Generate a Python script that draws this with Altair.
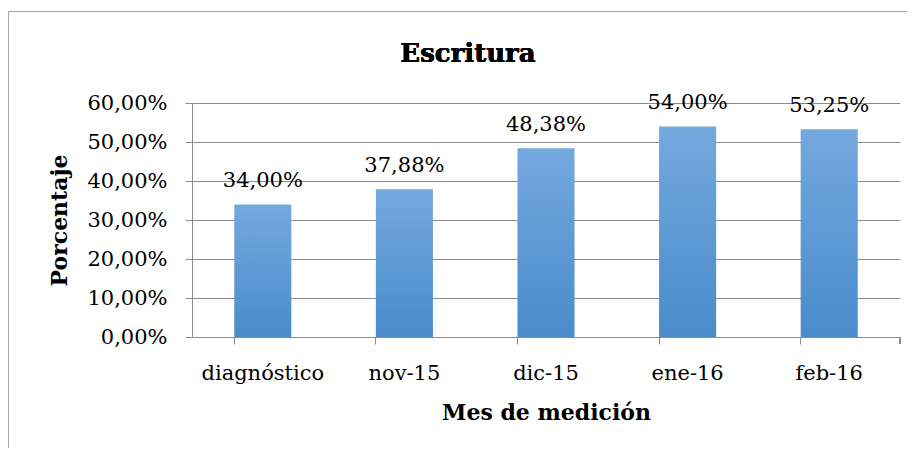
import altair as alt
import pandas as pd

categories = ["diagnóstico", "nov-15", "dic-15", "ene-16", "feb-16"]
values = [0.34, 0.3788, 0.4838, 0.54, 0.5325]
y_ticks = [0, 0.1, 0.2, 0.3, 0.4, 0.5, 0.6]

df = pd.DataFrame({"mes": categories, "pct": values})

FONT = "DejaVu Serif"
GRID = "#8c8c8c"
W, H = 708, 234

pct_expr = "replace(format(datum.value, '.2%'), '.', ',')"

x_scale = alt.Scale(domain=categories, paddingInner=0.597, paddingOuter=0.2985)
y_scale = alt.Scale(domain=[0, 0.6], nice=False)

x_axis = alt.Axis(
    title="Mes de medición",
    titleFont=FONT, titleFontSize=22, titleFontWeight="bold", titleColor="black",
    titleY=82, titleBaseline="alphabetic",
    labelFont=FONT, labelFontSize=21, labelColor="black", labelAngle=0,
    labelBaseline="alphabetic", labelPadding=35, labelOverlap=False,
    bandPosition=0, tickSize=7, tickColor=GRID, domainColor=GRID,
    grid=False,
)

y_axis = alt.Axis(
    values=y_ticks,
    labelExpr=pct_expr,
    labelOverlap=False,
    title="Porcentaje",
    titleFont=FONT, titleFontSize=22, titleFontWeight="bold", titleColor="black",
    titleX=-133, titleY=117, titleAngle=-90, titleAlign="center", titleBaseline="middle",
    labelFont=FONT, labelFontSize=21, labelColor="black",
    labelPadding=18, tickSize=7, tickColor=GRID, domainColor=GRID,
    grid=True, gridColor=GRID,
)

x_enc = alt.X("mes:N", sort=categories, scale=x_scale, axis=x_axis)
y_enc = alt.Y("pct:Q", scale=y_scale, axis=y_axis)

gradient = alt.Gradient(
    gradient="linear",
    stops=[alt.GradientStop(color="#73a9de", offset=0),
           alt.GradientStop(color="#4a8bcb", offset=1)],
    x1=0, x2=0, y1=0, y2=1,
)

bars = alt.Chart(df).mark_bar(color=gradient).encode(x=x_enc, y=y_enc)

labels = alt.Chart(df).transform_calculate(
    lab="replace(format(datum.pct, '.2%'), '.', ',')"
).mark_text(
    font=FONT, fontSize=21, color="black", baseline="alphabetic", dy=-17
).encode(x=x_enc, y=y_enc, text="lab:N")

title = alt.Chart(df).mark_text(
    text="Escritura", font=FONT, fontSize=26, fontWeight="bold",
    color="black", baseline="alphabetic", align="center"
).encode(x=alt.value(276), y=alt.value(-41))

end_tick = alt.Chart(df).mark_rule(color=GRID).encode(
    x=alt.value(W), y=alt.value(H), y2=alt.value(H + 7)
)

border_top = alt.Chart(df).mark_rule(color="#a6a6a6").encode(
    x=alt.value(-184), x2=alt.value(W + 10), y=alt.value(-91.5)
)
border_left = alt.Chart(df).mark_rule(color="#a6a6a6").encode(
    x=alt.value(-183.5), y=alt.value(-92), y2=alt.value(H + 120)
)

chart = alt.layer(bars, labels, title, end_tick, border_top, border_left).properties(
    width=W, height=H,
    autosize=alt.AutoSizeParams(type="none"),
    padding={"left": 184, "top": 95, "right": 7, "bottom": 111},
).configure_view(stroke=None)

chart.save("out.html", embed_options={"renderer": "svg", "actions": False})
